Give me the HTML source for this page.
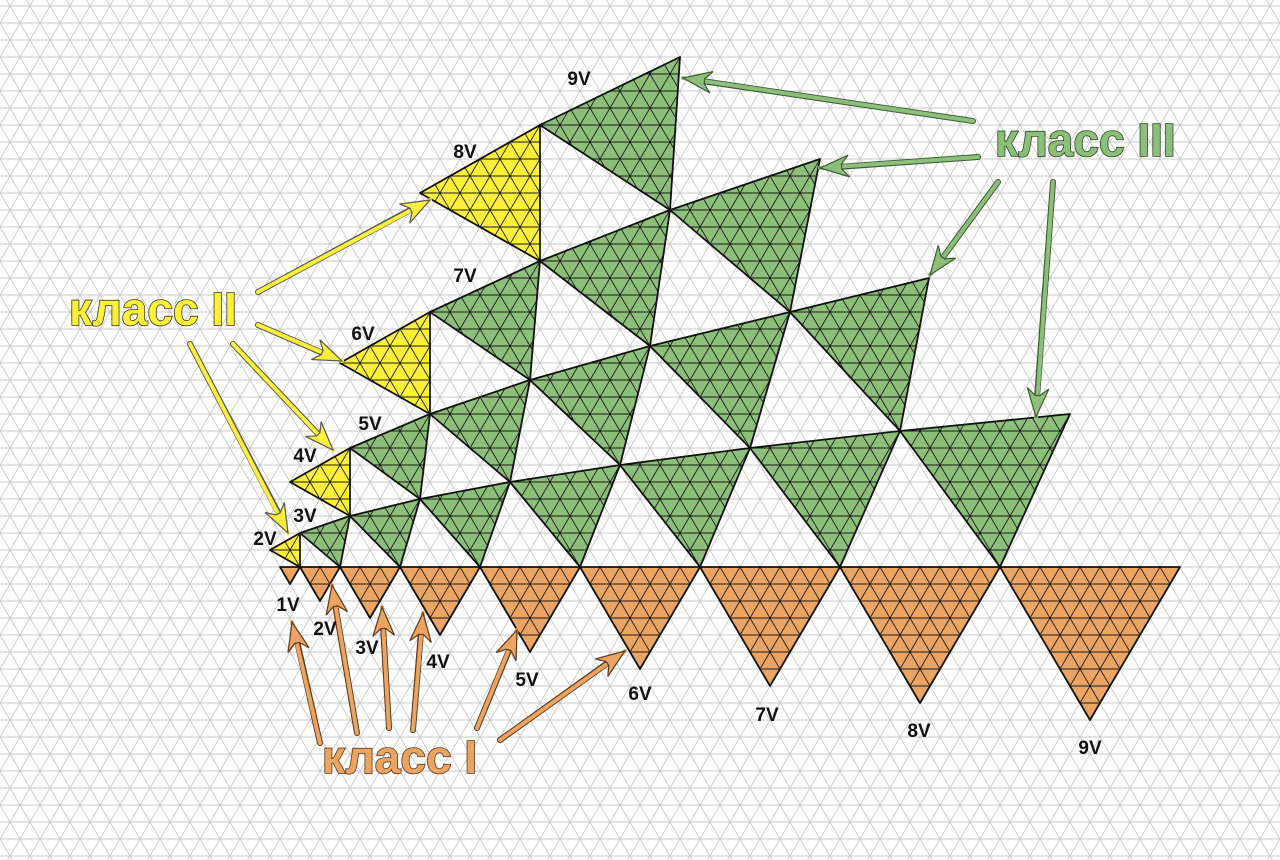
<!DOCTYPE html>
<html><head><meta charset="utf-8"><style>
html,body{margin:0;padding:0;background:#fff;}
svg{display:block;}
.lbl{font-family:"Liberation Sans",sans-serif;font-weight:bold;font-size:19px;fill:#111;}
.big{font-family:"Liberation Sans",sans-serif;font-weight:bold;font-size:46px;paint-order:stroke;stroke-width:1.6px;}
</style></head><body>
<svg width="1280" height="860" viewBox="0 0 1280 860" xmlns="http://www.w3.org/2000/svg">
<defs>
<pattern id="gg" width="20" height="34" patternUnits="userSpaceOnUse" patternTransform="translate(280,558.5)">
<path d="M0 8.5H20M0 25.5H20M-5 0L15 34M15 0L35 34M5 0L-15 34M25 0L5 34" stroke="#c8c8c8" stroke-width="0.9" fill="none"/>
</pattern>
<pattern id="gb" width="20" height="34" patternUnits="userSpaceOnUse" patternTransform="translate(280,558.5)">
<path d="M0 8.5H20M0 25.5H20M-5 0L15 34M15 0L35 34M5 0L-15 34M25 0L5 34" stroke="#1a1a1a" stroke-width="0.9" fill="none"/>
</pattern>
<marker id="ay" markerUnits="userSpaceOnUse" markerWidth="36" markerHeight="36" refX="26" refY="12" orient="auto" viewBox="0 0 30 24"><path d="M26 12L2 3L8 10L8 14L2 21Z" fill="#fdf03a" stroke="#555" stroke-width="1"/></marker>
<marker id="ag" markerUnits="userSpaceOnUse" markerWidth="36" markerHeight="36" refX="26" refY="12" orient="auto" viewBox="0 0 30 24"><path d="M26 12L2 3L8 10L8 14L2 21Z" fill="#8cc07a" stroke="#3d5a33" stroke-width="1"/></marker>
<marker id="ao" markerUnits="userSpaceOnUse" markerWidth="36" markerHeight="36" refX="26" refY="12" orient="auto" viewBox="0 0 30 24"><path d="M26 12L2 3L8 10L8 14L2 21Z" fill="#eba462" stroke="#5a3a1c" stroke-width="1"/></marker>
</defs>
<rect width="1280" height="860" fill="#fff"/>
<rect width="1280" height="860" fill="url(#gg)"/>

<g fill="#eba462">
<polygon points="280,567 300,567 290,584"/>
<polygon points="300,567 340,567 320,601"/>
<polygon points="340,567 400,567 370,618"/>
<polygon points="400,567 480,567 440,635"/>
<polygon points="480,567 580,567 530,652"/>
<polygon points="580,567 700,567 640,669"/>
<polygon points="700,567 840,567 770,686"/>
<polygon points="840,567 1000,567 920,703"/>
<polygon points="1000,567 1180,567 1090,720"/>
</g>
<g fill="#fdf03a">
<polygon points="300,567 300,533 270,550"/>
<polygon points="350,516 350,448 290,482"/>
<polygon points="430,414 430,312 340,363"/>
<polygon points="540,261 540,125 420,193"/>
</g>
<g fill="#8cc07a">
<polygon points="300,533 350,516 340,567"/>
<polygon points="350,516 420,499 400,567"/>
<polygon points="420,499 510,482 480,567"/>
<polygon points="510,482 620,465 580,567"/>
<polygon points="620,465 750,448 700,567"/>
<polygon points="750,448 900,431 840,567"/>
<polygon points="900,431 1070,414 1000,567"/>
<polygon points="350,448 430,414 420,499"/>
<polygon points="430,414 530,380 510,482"/>
<polygon points="530,380 650,346 620,465"/>
<polygon points="650,346 790,312 750,448"/>
<polygon points="790,312 929,278 900,431"/>
<polygon points="430,312 540,261 530,380"/>
<polygon points="540,261 670,210 650,346"/>
<polygon points="670,210 820,159 790,312"/>
<polygon points="540,125 680,57 670,210"/>
</g>
<g fill="url(#gb)" stroke="#111" stroke-width="1.8" stroke-linejoin="round">
<polygon points="280,567 300,567 290,584"/>
<polygon points="300,567 340,567 320,601"/>
<polygon points="340,567 400,567 370,618"/>
<polygon points="400,567 480,567 440,635"/>
<polygon points="480,567 580,567 530,652"/>
<polygon points="580,567 700,567 640,669"/>
<polygon points="700,567 840,567 770,686"/>
<polygon points="840,567 1000,567 920,703"/>
<polygon points="1000,567 1180,567 1090,720"/>
<polygon points="300,567 300,533 270,550"/>
<polygon points="350,516 350,448 290,482"/>
<polygon points="430,414 430,312 340,363"/>
<polygon points="540,261 540,125 420,193"/>
<polygon points="300,533 350,516 340,567"/>
<polygon points="350,516 420,499 400,567"/>
<polygon points="420,499 510,482 480,567"/>
<polygon points="510,482 620,465 580,567"/>
<polygon points="620,465 750,448 700,567"/>
<polygon points="750,448 900,431 840,567"/>
<polygon points="900,431 1070,414 1000,567"/>
<polygon points="350,448 430,414 420,499"/>
<polygon points="430,414 530,380 510,482"/>
<polygon points="530,380 650,346 620,465"/>
<polygon points="650,346 790,312 750,448"/>
<polygon points="790,312 929,278 900,431"/>
<polygon points="430,312 540,261 530,380"/>
<polygon points="540,261 670,210 650,346"/>
<polygon points="670,210 820,159 790,312"/>
<polygon points="540,125 680,57 670,210"/>
</g>

<g stroke-linecap="round">
<g stroke="#555" stroke-width="6">
<line x1="258" y1="292" x2="412" y2="209"/>
<line x1="258" y1="325" x2="325" y2="354"/>
<line x1="233" y1="344" x2="320" y2="436"/>
<line x1="190" y1="344" x2="280" y2="516"/>
</g>
<g stroke="#fdf03a" stroke-width="4">
<line x1="258" y1="292" x2="430" y2="200" marker-end="url(#ay)"/>
<line x1="258" y1="325" x2="342" y2="361" marker-end="url(#ay)"/>
<line x1="233" y1="344" x2="333" y2="450" marker-end="url(#ay)"/>
<line x1="190" y1="344" x2="288" y2="533" marker-end="url(#ay)"/>
</g>
<g stroke="#3d5a33" stroke-width="6">
<line x1="973" y1="121" x2="702" y2="81"/>
<line x1="978" y1="157" x2="838" y2="167"/>
<line x1="998" y1="182" x2="941" y2="260"/>
<line x1="1053" y1="182" x2="1037" y2="398"/>
</g>
<g stroke="#8cc07a" stroke-width="4">
<line x1="973" y1="121" x2="683" y2="78" marker-end="url(#ag)"/>
<line x1="978" y1="157" x2="820" y2="168" marker-end="url(#ag)"/>
<line x1="998" y1="182" x2="930" y2="275" marker-end="url(#ag)"/>
<line x1="1053" y1="182" x2="1036" y2="417" marker-end="url(#ag)"/>
</g>
<g stroke="#5a3a1c" stroke-width="6">
<line x1="320" y1="743" x2="297" y2="641"/>
<line x1="357" y1="733" x2="335" y2="604"/>
<line x1="389" y1="728" x2="383" y2="626"/>
<line x1="413" y1="730" x2="421" y2="632"/>
<line x1="477" y1="728" x2="510" y2="648"/>
<line x1="500" y1="740" x2="609" y2="662"/>
</g>
<g stroke="#eba462" stroke-width="4">
<line x1="320" y1="743" x2="292" y2="622" marker-end="url(#ao)"/>
<line x1="357" y1="733" x2="332" y2="585" marker-end="url(#ao)"/>
<line x1="389" y1="728" x2="382" y2="607" marker-end="url(#ao)"/>
<line x1="413" y1="730" x2="423" y2="613" marker-end="url(#ao)"/>
<line x1="477" y1="728" x2="517" y2="630" marker-end="url(#ao)"/>
<line x1="500" y1="740" x2="625" y2="651" marker-end="url(#ao)"/>
</g>
</g>

<g class="lbl" text-anchor="middle">
<text x="579" y="85">9V</text>
<text x="465" y="158">8V</text>
<text x="465" y="282">7V</text>
<text x="363" y="340">6V</text>
<text x="370" y="430">5V</text>
<text x="305" y="462">4V</text>
<text x="305" y="522">3V</text>
<text x="265" y="545">2V</text>
<text x="288" y="611">1V</text>
<text x="325" y="635">2V</text>
<text x="367" y="654">3V</text>
<text x="438" y="668">4V</text>
<text x="527" y="686">5V</text>
<text x="640" y="700">6V</text>
<text x="767" y="721">7V</text>
<text x="919" y="737">8V</text>
<text x="1090" y="754">9V</text>
</g>
<text class="big" x="69" y="325" fill="#fdf03a" stroke="#3a3a1a">класс II</text>
<text class="big" x="995" y="156" fill="#8cc07a" stroke="#2e4526">класс III</text>
<text class="big" x="322" y="773" fill="#eba462" stroke="#5a3a1c">класс I</text>
</svg>
</body></html>
